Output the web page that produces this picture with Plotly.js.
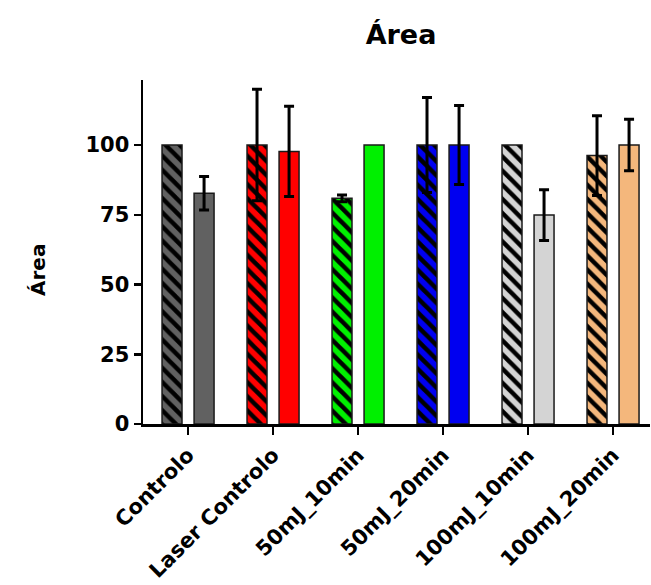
<!DOCTYPE html>
<html>
<head>
<meta charset="utf-8">
<script src="https://cdn.plot.ly/plotly-3.0.1.min.js"></script>
<style>html,body{margin:0;padding:0;background:#fff;}#chart{width:651px;height:585px;}</style>
</head>
<body>
<div id="chart"></div>
<script>
const categories = ['Controlo', 'Laser Controlo', '50mJ_10min', '50mJ_20min', '100mJ_10min', '100mJ_20min'];
const hatchedMean = [100, 100, 80.9, 100, 100, 96.2];
const hatchedErr = [null, 20, 1.2, 17, null, 14.3];   // null = no error bar drawn
const solidMean = [82.7, 97.7, 100, 100, 74.9, 100];
const solidErr = [6, 16.2, null, 14.2, 9.1, 9.2];
const groupColors = ['#616161', '#FF0000', '#00F000', '#0000F0', '#D4D4D4', '#F4B77C'];
const yTicks = [0, 25, 50, 75, 100];

const FONT = 'DejaVu Sans, Liberation Sans, Arial, sans-serif';
const BAR_W = 0.235;
const errStyle = {type: 'data', color: '#000', thickness: 3, width: 5};
const outline = {color: '#1a1a1a', width: 1.5};

function errFor(v) {
  return Object.assign({}, errStyle, {array: [v === null ? 0 : v], visible: v !== null});
}

// Hatched bars: one trace per category so each keeps a scalar colour
// (black stripes over the category colour).
const hatchedTraces = categories.map((cat, i) => ({
  type: 'bar',
  x: [cat],
  y: [hatchedMean[i]],
  width: BAR_W,
  offset: -0.306,
  error_y: errFor(hatchedErr[i]),
  marker: {
    color: groupColors[i],
    line: outline,
    pattern: {
      shape: '\\',
      fgcolor: '#000000',
      bgcolor: groupColors[i],
      fgopacity: 1,
      size: 10, solidity: 0.45, fillmode: 'replace'
    }
  },
  showlegend: false,
  hoverinfo: 'x+y'
}));

const solidTraces = categories.map((cat, i) => ({
  type: 'bar',
  x: [cat],
  y: [solidMean[i]],
  width: BAR_W,
  offset: 0.071,
  error_y: errFor(solidErr[i]),
  marker: {color: groupColors[i], line: outline},
  showlegend: false,
  hoverinfo: 'x+y'
}));

const layout = {
  width: 651,
  height: 585,
  margin: {l: 143, r: 1, t: 80, b: 161, autoexpand: false},
  paper_bgcolor: '#fff',
  plot_bgcolor: '#fff',
  barmode: 'overlay',
  title: {
    text: '<b>Área</b>',
    font: {family: FONT, size: 27, color: '#000'},
    x: 401 / 651, xref: 'container', xanchor: 'center',
    y: 1 - 35 / 585, yref: 'container', yanchor: 'middle'
  },
  xaxis: {
    type: 'category',
    categoryorder: 'array',
    categoryarray: categories,
    range: [-0.53, 5.435],
    showline: true, linecolor: '#000', linewidth: 2.5,
    ticks: 'outside', ticklen: 8, tickwidth: 2.5, tickcolor: '#000',
    tickangle: -45,
    tickfont: {family: FONT, size: 21, color: '#000', weight: 'bold'},
    showgrid: false, zeroline: false, automargin: false, fixedrange: true
  },
  yaxis: {
    range: [0, 123.3],
    tickvals: yTicks,
    ticktext: yTicks.map(String),
    showline: true, linecolor: '#000', linewidth: 2.5,
    ticks: 'outside', ticklen: 7, tickwidth: 2.5, tickcolor: '#000',
    tickfont: {family: FONT, size: 21, color: '#000', weight: 'bold'},
    showgrid: false, zeroline: false, automargin: false, fixedrange: true
  },
  annotations: [{
    text: '<b>Área</b>',
    textangle: -90,
    xref: 'paper', yref: 'paper',
    x: (38 - 143) / 507, y: (424 - 270) / 344,
    xanchor: 'center', yanchor: 'middle',
    showarrow: false,
    font: {family: FONT, size: 20, color: '#000'}
  }]
};

Plotly.newPlot('chart', hatchedTraces.concat(solidTraces), layout, {displayModeBar: false, staticPlot: true});
</script>
</body>
</html>
